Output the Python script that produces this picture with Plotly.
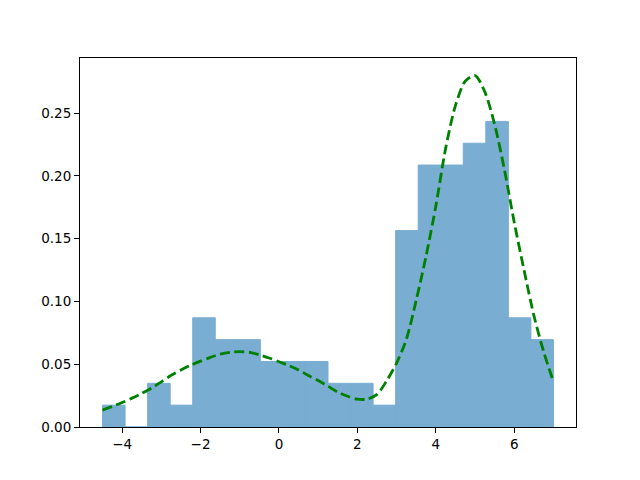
import plotly.graph_objects as go

# Histogram (density) data: bin left edges and densities
bin_width = 0.575
bin_left = [-4.5, -3.925, -3.35, -2.775, -2.2, -1.625, -1.05, -0.475, 0.1, 0.675,
            1.25, 1.825, 2.4, 2.975, 3.55, 4.125, 4.7, 5.275, 5.85, 6.425]
density = [0.0174, 0.0, 0.0348, 0.0174, 0.0870, 0.0696, 0.0696, 0.0522, 0.0522, 0.0522,
           0.0348, 0.0348, 0.0174, 0.1565, 0.2087, 0.2087, 0.2261, 0.2435, 0.0870, 0.0696]

# KDE curve
kde_x = [-4.5, -4.25, -4.0, -3.75, -3.5, -3.25, -3.0, -2.75, -2.5, -2.25, -2.0, -1.75,
         -1.5, -1.25, -1.0, -0.75, -0.5, -0.25, 0.0, 0.25, 0.5, 0.75, 1.0, 1.25, 1.5,
         1.75, 2.0, 2.25, 2.5, 2.75, 3.0, 3.25, 3.5, 3.75, 4.0, 4.25, 4.5, 4.75, 5.0,
         5.25, 5.5, 5.75, 6.0, 6.25, 6.5, 6.75, 7.0]
kde_y = [0.0135, 0.0163, 0.0195, 0.023, 0.0268, 0.031, 0.036, 0.0412, 0.0455, 0.0492,
         0.0525, 0.0555, 0.058, 0.0595, 0.060, 0.0595, 0.0575, 0.055, 0.052, 0.049,
         0.0455, 0.041, 0.037, 0.0325, 0.0278, 0.0245, 0.0222, 0.0222, 0.026, 0.037,
         0.051, 0.070, 0.101, 0.136, 0.176, 0.222, 0.256, 0.2755, 0.280, 0.267, 0.241,
         0.205, 0.163, 0.125, 0.089, 0.060, 0.036]

x_ticks = [-4, -2, 0, 2, 4, 6]
y_ticks = [0.00, 0.05, 0.10, 0.15, 0.20, 0.25]

bar_color = "rgb(121,173,210)"  # C0 at alpha 0.6 over white

fig = go.Figure()
fig.add_trace(go.Bar(
    x=bin_left, y=density, width=[bin_width] * len(bin_left), offset=0,
    marker=dict(color=bar_color, line=dict(width=1, color=bar_color)),
    hoverinfo="skip",
))
fig.add_trace(go.Scatter(
    x=kde_x, y=kde_y, mode="lines",
    line=dict(color="#008000", width=2.8, dash="10px,4.5px", shape="spline", smoothing=0.8),
))

axis_common = dict(
    showgrid=False, zeroline=False, showline=True, linecolor="black", linewidth=1,
    mirror=True, ticks="outside", ticklen=5, tickwidth=1, tickcolor="black",
    tickfont=dict(family="DejaVu Sans", size=13.5, color="black"),
)
fig.update_xaxes(range=[-5.075, 7.575], tickvals=x_ticks,
                 ticktext=[f"{v}".replace("-", "\u2212") for v in x_ticks], **axis_common)
fig.update_yaxes(range=[0, 0.294], tickvals=y_ticks,
                 ticktext=[f"{v:.2f}" for v in y_ticks], **axis_common)

# page body has an 8px margin, so the margins are shifted to compensate
fig.update_layout(
    width=640, height=480,
    margin=dict(l=72, r=72, t=50, b=61),
    plot_bgcolor="white", paper_bgcolor="white",
    showlegend=False,
    font=dict(family="DejaVu Sans"),
)
fig.write_html("out.html")
